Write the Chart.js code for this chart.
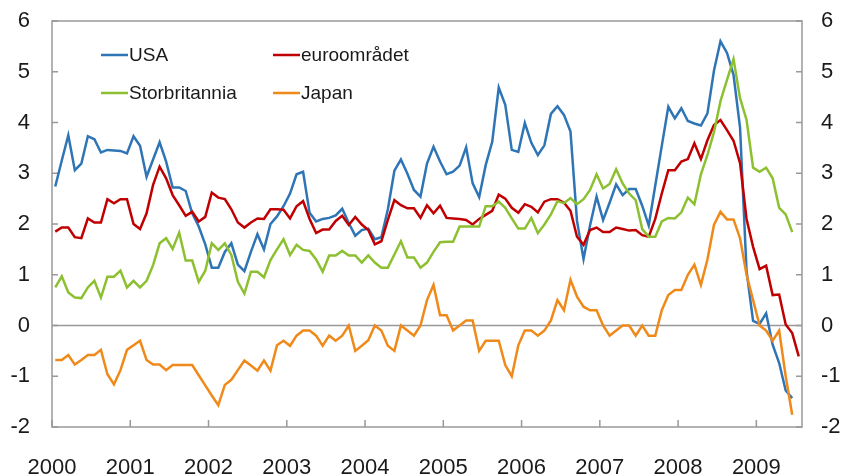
<!DOCTYPE html>
<html>
<head>
<meta charset="utf-8">
<title>Konsumpriser</title>
<style>
  html, body { margin: 0; padding: 0; background: #fff; }
  canvas { display: block; }
</style>
<script src="https://cdn.jsdelivr.net/npm/chart.js"></script>
</head>
<body>
<canvas id="chart" width="843" height="476"></canvas>
<script>
// monthly, Jan 2000 onwards (percent)
const years = ['2000','2001','2002','2003','2004','2005','2006','2007','2008','2009'];
const yTicks = [-2, -1, 0, 1, 2, 3, 4, 5, 6];
const names = ['USA', 'euroområdet', 'Storbritannia', 'Japan'];
const colors = ['#2f75b5', '#c00000', '#8dc031', '#ef8a1a'];

const usa = [
  2.74, 3.25, 3.75, 3.06, 3.19, 3.73, 3.67, 3.41, 3.46, 3.45, 3.44, 3.39,
  3.73, 3.54, 2.93, 3.27, 3.61, 3.23, 2.72, 2.72, 2.65, 2.21, 1.95, 1.6,
  1.14, 1.14, 1.45, 1.62, 1.2, 1.07, 1.45, 1.8, 1.5, 2.0, 2.15, 2.35,
  2.6, 2.98, 3.03, 2.22, 2.05, 2.1, 2.12, 2.17, 2.3, 2.02, 1.77, 1.88,
  1.91, 1.7, 1.74, 2.29, 3.05, 3.27, 2.99, 2.67, 2.54, 3.19, 3.52, 3.23,
  2.98, 3.03, 3.15, 3.51, 2.8, 2.53, 3.16, 3.62, 4.69, 4.35, 3.46, 3.42,
  3.99, 3.6, 3.36, 3.55, 4.17, 4.32, 4.15, 3.82, 2.06, 1.31, 1.97, 2.54,
  2.08, 2.42, 2.78, 2.57, 2.69, 2.69, 2.36, 1.97, 2.76, 3.54, 4.31, 4.08,
  4.28, 4.03, 3.98, 3.94, 4.18, 5.02, 5.6, 5.37, 4.94, 3.9, 1.07, 0.09,
  0.03, 0.24, -0.38, -0.74, -1.28, -1.43
];
const euro = [
  1.85, 1.93, 1.93, 1.74, 1.72, 2.11, 2.03, 2.03, 2.49, 2.41, 2.49, 2.49,
  2.0, 1.9, 2.21, 2.77, 3.13, 2.9, 2.57, 2.37, 2.16, 2.24, 2.05, 2.14,
  2.62, 2.52, 2.49, 2.29, 2.03, 1.93, 2.03, 2.11, 2.1, 2.29, 2.29, 2.28,
  2.11, 2.35, 2.45, 2.1, 1.82, 1.89, 1.89, 2.06, 2.16, 1.98, 2.14, 1.99,
  1.88, 1.6, 1.66, 2.08, 2.47, 2.37, 2.31, 2.31, 2.12, 2.37, 2.21, 2.36,
  2.12, 2.11, 2.1, 2.08, 1.99, 2.1, 2.18, 2.26, 2.58, 2.5, 2.32, 2.22,
  2.39, 2.34, 2.23, 2.44, 2.49, 2.49, 2.42, 2.26, 1.75, 1.59, 1.88, 1.93,
  1.84, 1.84, 1.93, 1.9, 1.87, 1.88, 1.78, 1.75, 2.1, 2.6, 3.06, 3.06,
  3.23, 3.28, 3.59, 3.28, 3.65, 3.95, 4.05, 3.85, 3.64, 3.2, 2.1, 1.55,
  1.11, 1.18, 0.6, 0.61, 0.02, -0.15, -0.61
];
const uk = [
  0.75, 0.97, 0.65, 0.55, 0.54, 0.75, 0.88, 0.55, 0.96, 0.96, 1.08, 0.75,
  0.88, 0.75, 0.88, 1.19, 1.62, 1.72, 1.51, 1.83, 1.28, 1.28, 0.86, 1.08,
  1.62, 1.49, 1.62, 1.39, 0.86, 0.63, 1.06, 1.06, 0.95, 1.29, 1.5, 1.7,
  1.39, 1.59, 1.49, 1.47, 1.3, 1.06, 1.38, 1.38, 1.47, 1.38, 1.38, 1.24,
  1.38, 1.24, 1.14, 1.14, 1.4, 1.66, 1.34, 1.34, 1.14, 1.24, 1.45, 1.64,
  1.65, 1.65, 1.95, 1.95, 1.95, 1.95, 2.35, 2.35, 2.44, 2.32, 2.11, 1.91,
  1.91, 2.12, 1.82, 1.99, 2.19, 2.45, 2.41, 2.51, 2.39, 2.49, 2.67, 2.98,
  2.7, 2.79, 3.08, 2.8, 2.6, 2.47, 1.9, 1.75, 1.75, 2.05, 2.12, 2.11,
  2.23, 2.52, 2.39, 2.98, 3.36, 3.81, 4.42, 4.84, 5.25, 4.48, 4.05, 3.11,
  3.03, 3.11, 2.9, 2.32, 2.19, 1.84
];
const japan = [
  -0.68, -0.68, -0.58, -0.77, -0.68, -0.58, -0.58, -0.48, -0.96, -1.16, -0.88, -0.48,
  -0.39, -0.3, -0.68, -0.77, -0.77, -0.88, -0.78, -0.78, -0.78, -0.78, -0.98, -1.18,
  -1.38, -1.57, -1.17, -1.07, -0.88, -0.69, -0.79, -0.89, -0.69, -0.89, -0.39, -0.3,
  -0.4, -0.2, -0.1, -0.1, -0.2, -0.4, -0.2, -0.3, -0.2, 0.0, -0.5, -0.4,
  -0.29, 0.0, -0.1, -0.4, -0.5, 0.0, -0.1, -0.2, 0.0, 0.5, 0.8, 0.2,
  0.2, -0.1, 0.0, 0.1, 0.1, -0.5, -0.3, -0.3, -0.3, -0.78, -1.0, -0.39,
  -0.1, -0.1, -0.2, -0.1, 0.1, 0.5, 0.3, 0.9, 0.57, 0.37, 0.3, 0.3,
  0.0, -0.2, -0.1, 0.0, 0.0, -0.2, 0.0, -0.2, -0.2, 0.3, 0.6, 0.7,
  0.7, 1.0, 1.2, 0.8, 1.3, 1.98, 2.24, 2.09, 2.09, 1.72, 1.0, 0.5,
  0.0, -0.1, -0.3, -0.1, -1.0, -1.76
];

const FONT = "'Liberation Sans', Arial, sans-serif";
const AXIS = '#999999';

// month index -> point in the middle of the month
function toPoints(arr) {
  return arr.map((v, i) => ({ x: i + 0.5, y: v }));
}

const frame = {
  id: 'frame',
  beforeDatasetsDraw(chart) {
    const { ctx, chartArea: a, scales } = chart;
    ctx.save();
    ctx.strokeStyle = AXIS;
    ctx.lineWidth = 1.5;
    // zero line
    const y0 = scales.y.getPixelForValue(0);
    ctx.beginPath();
    ctx.moveTo(a.left, y0);
    ctx.lineTo(a.right, y0);
    ctx.stroke();
    // inner ticks
    ctx.beginPath();
    yTicks.forEach(t => {
      const y = scales.y.getPixelForValue(t);
      ctx.moveTo(a.left, y); ctx.lineTo(a.left + 6, y);
      ctx.moveTo(a.right - 6, y); ctx.lineTo(a.right, y);
    });
    years.forEach((yr, k) => {
      const x = scales.x.getPixelForValue(k * 12);
      ctx.moveTo(x, a.bottom); ctx.lineTo(x, a.bottom - 7);
    });
    ctx.stroke();
    ctx.strokeRect(a.left, a.top, a.right - a.left, a.bottom - a.top);
    ctx.restore();
  },
  afterDraw(chart) {
    // legend inside the plot, two columns
    const { ctx, chartArea: a } = chart;
    const cols = [49, 221];
    const rows = [34, 72];
    ctx.save();
    ctx.font = '19px ' + FONT;
    ctx.textBaseline = 'middle';
    names.forEach((n, k) => {
      const x = a.left + cols[k % 2];
      const y = a.top + rows[Math.floor(k / 2)];
      ctx.strokeStyle = colors[k];
      ctx.lineWidth = 2.5;
      ctx.beginPath();
      ctx.moveTo(x, y); ctx.lineTo(x + 27, y);
      ctx.stroke();
      ctx.fillStyle = '#1a1a1a';
      ctx.fillText(n, x + 28, y + 1);
    });
    ctx.restore();
  }
};

const series = [usa, euro, uk, japan];

function fitY(width) {
  return s => {
    s.width = width;
    s.paddingTop = 0;
    s.paddingBottom = 0;
  };
}

new Chart(document.getElementById('chart'), {
  type: 'line',
  data: {
    datasets: series.map((s, k) => ({
      label: names[k],
      data: toPoints(s),
      borderColor: colors[k],
      borderWidth: 2.5,
      pointRadius: 0,
      tension: 0,
      order: 4 - k
    }))
  },
  options: {
    responsive: false,
    animation: false,
    layout: { padding: { top: 21, left: 0, right: 0, bottom: 0 } },
    plugins: { legend: { display: false }, tooltip: { enabled: false } },
    scales: {
      x: {
        type: 'linear',
        min: 0,
        max: 115,
        afterBuildTicks: s => { s.ticks = years.map((y, k) => ({ value: k * 12 })); },
        afterFit: s => { s.height = 49; },
        grid: { display: false },
        border: { display: false },
        ticks: {
          callback: v => years[v / 12],
          font: { family: FONT, size: 22 },
          color: '#1a1a1a',
          padding: 20,
          maxRotation: 0,
          autoSkip: false
        }
      },
      y: {
        position: 'left',
        min: -2,
        max: 6,
        afterBuildTicks: s => { s.ticks = yTicks.map(v => ({ value: v })); },
        afterFit: fitY(52),
        grid: { display: false },
        border: { display: false },
        ticks: { font: { family: FONT, size: 22 }, color: '#1a1a1a', padding: 14 }
      },
      y2: {
        position: 'right',
        min: -2,
        max: 6,
        afterBuildTicks: s => { s.ticks = yTicks.map(v => ({ value: v })); },
        afterFit: fitY(41),
        grid: { display: false },
        border: { display: false },
        ticks: { font: { family: FONT, size: 22 }, color: '#1a1a1a', padding: 11 }
      }
    }
  },
  plugins: [frame]
});
</script>
</body>
</html>
